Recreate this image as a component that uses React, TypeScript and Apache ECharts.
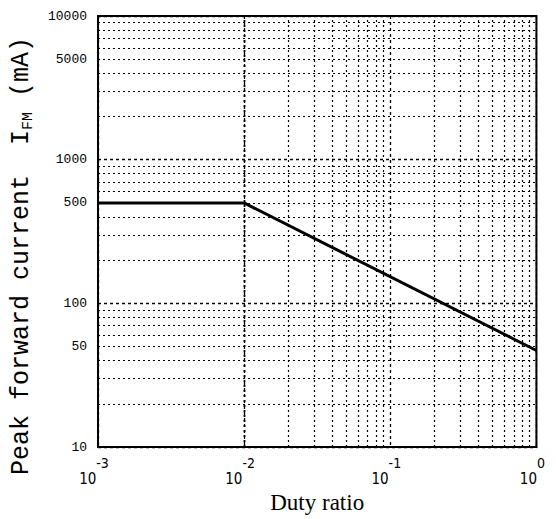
import React, { useEffect, useRef } from "react";
import * as echarts from "echarts";

const dutyRatio = [0.001, 0.01, 1];
const peakCurrentMA = [500, 500, 47];
const xDecades = [0.001, 0.01, 0.1, 1];
const yDecades = [10, 100, 1000, 10000];
const yTickLabels = [10, 50, 100, 500, 1000, 5000, 10000];
const gridMultipliers = [2, 3, 4, 5, 6, 7, 8, 9];
const xExponents: Record<string, string> = { "0.001": "-3", "0.01": "-2", "0.1": "-1", "1": "0" };

const xMinor: number[] = [];
xDecades.slice(0, -1).forEach((d) => gridMultipliers.forEach((m) => xMinor.push(+(d * m).toPrecision(3))));
const yMinor: number[] = [];
yDecades.slice(0, -1).forEach((d) => gridMultipliers.forEach((m) => yMinor.push(d * m)));

export default function App() {
  const ref = useRef<HTMLDivElement>(null);
  useEffect(() => {
    if (!ref.current) return;
    const chart = echarts.init(ref.current, null, { renderer: "svg" });
    const tickFont = "Liberation Mono";
    chart.setOption({
      animation: false,
      backgroundColor: "#fff",
      grid: { left: 98, right: 4, top: 16, bottom: 66, show: true, borderColor: "#000", borderWidth: 2, backgroundColor: "transparent" },
      xAxis: {
        type: "log",
        logBase: 10,
        min: 0.001,
        max: 1,
        name: "Duty ratio",
        nameLocation: "middle",
        nameGap: 42,
        nameTextStyle: { fontFamily: "Liberation Serif", fontSize: 23, color: "#000" },
        axisLine: { lineStyle: { color: "#000", width: 2 } },
        axisTick: { show: false },
        splitLine: { show: true, lineStyle: { color: "#000", type: [3, 3], width: 1.3 } },
        axisLabel: {
          margin: 9,
          color: "#000",
          formatter: (v: number) => `{b|10}{s|${xExponents[String(v)] ?? ""}}`,
          rich: {
            b: { fontFamily: "Liberation Sans Narrow, DejaVu Sans Condensed", fontSize: 15, lineHeight: 30, verticalAlign: "bottom", color: "#000" },
            s: { fontFamily: "Liberation Sans Narrow, DejaVu Sans Condensed", fontSize: 14, lineHeight: 30, verticalAlign: "top", color: "#000", padding: [0, 8, 0, 0] },
          },
        },
      },
      yAxis: {
        type: "log",
        logBase: 10,
        min: 10,
        max: 10000,
        axisLine: { show: true, lineStyle: { color: "#000", width: 2 } },
        axisTick: { show: false },
        splitLine: { show: true, lineStyle: { color: "#000", type: [3, 3], width: 1.3 } },
        axisLabel: {
          show: true,
          customValues: yTickLabels,
          formatter: (v: number) => String(v),
          margin: 11,
          color: "#000",
          fontFamily: tickFont,
          fontSize: 13,
        },
      },
      graphic: [
        {
          type: "text",
          x: 21,
          y: 256,
          rotation: Math.PI / 2,
          style: {
            text: "{a|Peak forward current  I}{sub|FM}{a| (mA)}",
            align: "center",
            verticalAlign: "middle",
            rich: {
              a: { fontFamily: "Liberation Mono", fontSize: 25, fill: "#000" },
              sub: { fontFamily: "Liberation Mono", fontSize: 15, fill: "#000", verticalAlign: "bottom", lineHeight: 30 },
            },
          },
        },
      ],
      series: [
        {
          type: "line",
          data: dutyRatio.map((x, i) => [x, peakCurrentMA[i]]),
          symbol: "none",
          lineStyle: { color: "#000", width: 3 },
          z: 5,
          markLine: {
            silent: true,
            symbol: "none",
            label: { show: false },
            lineStyle: { color: "#000", type: [2, 3], width: 1.2 },
            data: [...xMinor.map((v) => ({ xAxis: v })), ...yMinor.map((v) => ({ yAxis: v }))],
          },
        },
      ],
    });
    return () => chart.dispose();
  }, []);
  return <div ref={ref} style={{ width: 556, height: 519, position: "absolute", left: 0, top: 0 }} />;
}
